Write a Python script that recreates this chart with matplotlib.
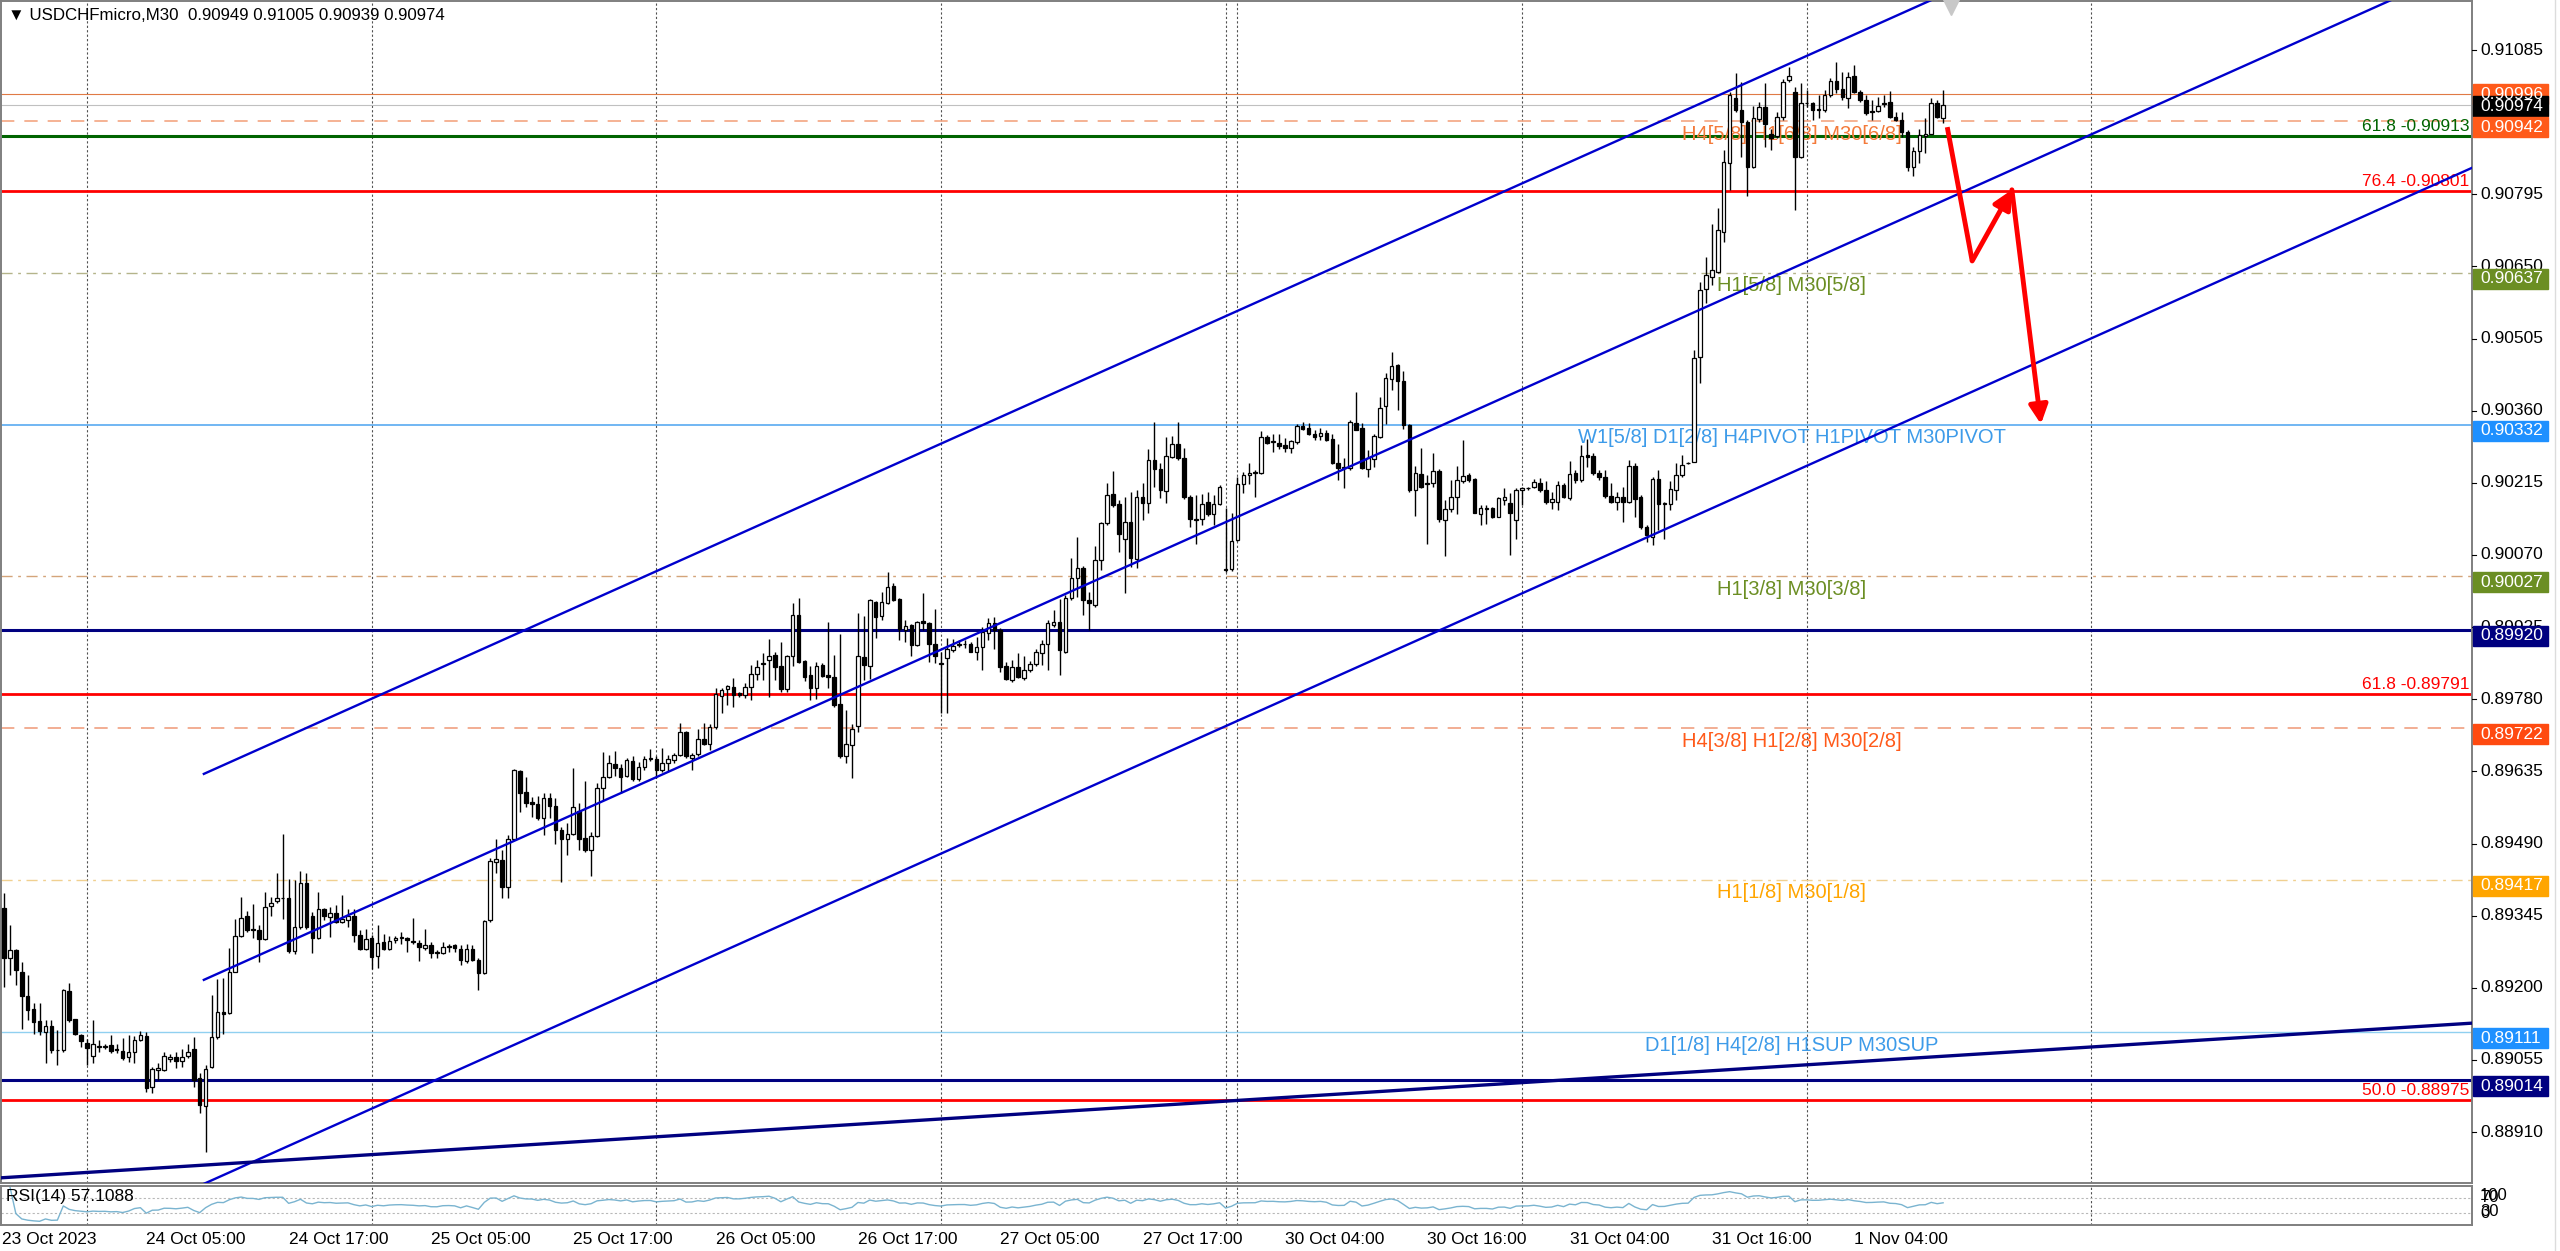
#!/usr/bin/env python3
"""USDCHFmicro M30 chart with murrey levels, fib lines and a price channel."""
import numpy as np
import pandas as pd
import matplotlib
matplotlib.use('Agg')
import matplotlib.pyplot as plt
import matplotlib.transforms as mtransforms
from matplotlib.patches import Rectangle
from matplotlib.lines import Line2D

plt.rcParams['font.family'] = ['Liberation Sans', 'DejaVu Sans']

# candle data, in points (1e-5), one per M30 bar from 23 Oct 17:00
opens = [
    89360, 89259, 89276, 89232, 89184, 89157, 89133, 89112, 89123, 89075, 89075, 89194, 89137, 89105, 89090, 89063,
    89082, 89082, 89085, 89078, 89073, 89061, 89071, 89095, 89103, 89001, 89035, 89035, 89057, 89061, 89053, 89063,
    89078, 89018, 88962, 89040, 89102, 89152, 89149, 89232, 89304, 89344, 89319, 89317, 89299, 89364, 89374, 89380,
    89380, 89274, 89323, 89411, 89344, 89301, 89358, 89343, 89351, 89333, 89336, 89344, 89306, 89278, 89301, 89264,
    89293, 89279, 89296, 89301, 89301, 89295, 89291, 89281, 89287, 89272, 89270, 89283, 89286, 89279, 89254, 89279,
    89256, 89229, 89336, 89453, 89457, 89403, 89500, 89636, 89593, 89574, 89569, 89541, 89581, 89566, 89518, 89499,
    89509, 89556, 89502, 89478, 89505, 89601, 89623, 89649, 89642, 89626, 89656, 89620, 89644, 89660, 89660, 89638,
    89651, 89658, 89668, 89715, 89661, 89670, 89701, 89690, 89725, 89786, 89800, 89805, 89792, 89788, 89805, 89831,
    89851, 89859, 89868, 89847, 89800, 89866, 89949, 89857, 89829, 89803, 89849, 89829, 89824, 89770, 89665, 89688,
    89726, 89864, 89847, 89976, 89947, 89974, 90008, 89981, 89920, 89929, 89889, 89938, 89933, 89892, 89851, 89862,
    89879, 89889, 89891, 89891, 89876, 89886, 89914, 89934, 89920, 89847, 89819, 89844, 89822, 89839, 89851, 89872,
    89891, 89929, 89936, 89876, 89983, 90023, 90043, 89979, 89969, 90059, 90135, 90192, 90172, 90103, 90137, 90061,
    90187, 90174, 90261, 90242, 90199, 90266, 90294, 90264, 90187, 90140, 90142, 90177, 90152, 90172, 90040, 90041,
    90100, 90213, 90231, 90234, 90234, 90308, 90297, 90296, 90291, 90286, 90298, 90330, 90326, 90314, 90309, 90316,
    90304, 90255, 90245, 90244, 90336, 90326, 90242, 90262, 90308, 90369, 90423, 90452, 90420, 90331, 90201, 90233,
    90214, 90215, 90239, 90140, 90162, 90187, 90219, 90231, 90222, 90152, 90162, 90164, 90147, 90180, 90175, 90140,
    90200, 90204, 90206, 90215, 90200, 90177, 90177, 90211, 90184, 90235, 90221, 90271, 90269, 90235, 90227, 90188,
    90177, 90186, 90177, 90249, 90186, 90127, 90107, 90222, 90172, 90172, 90200, 90231, 90254, 90257, 90468, 90604,
    90628, 90639, 90720, 90858, 90988, 90964, 90941, 90850, 90946, 90971, 90917, 90912, 90950, 91025, 91000, 90870,
    90978, 90978, 90964, 90964, 90994, 91023, 91006, 90988, 91033, 91001, 90984, 90963, 90963, 90976, 90981, 90950,
    90944, 90921, 90850, 90881, 90912, 90917, 90978, 90949,
]
highs = [
    89390, 89326, 89279, 89252, 89226, 89169, 89170, 89135, 89135, 89115, 89197, 89209, 89138, 89108, 89098, 89135,
    89095, 89088, 89105, 89088, 89100, 89105, 89103, 89113, 89112, 89040, 89048, 89071, 89067, 89071, 89078, 89088,
    89102, 89028, 89045, 89185, 89217, 89219, 89281, 89339, 89383, 89355, 89368, 89326, 89393, 89383, 89431, 89510,
    89418, 89417, 89435, 89430, 89353, 89393, 89360, 89362, 89366, 89386, 89358, 89358, 89316, 89319, 89306, 89326,
    89309, 89304, 89304, 89313, 89303, 89341, 89296, 89319, 89293, 89276, 89293, 89289, 89289, 89286, 89289, 89286,
    89259, 89337, 89460, 89500, 89477, 89507, 89639, 89638, 89623, 89584, 89585, 89591, 89591, 89581, 89524, 89532,
    89641, 89571, 89616, 89514, 89611, 89675, 89668, 89677, 89650, 89661, 89665, 89654, 89665, 89681, 89665, 89683,
    89668, 89671, 89732, 89717, 89671, 89721, 89732, 89730, 89802, 89802, 89809, 89822, 89795, 89812, 89849, 89859,
    89872, 89902, 89876, 89896, 89869, 89973, 89983, 89859, 89847, 89855, 89852, 89936, 89869, 89911, 89758, 89730,
    89954, 89947, 89981, 89978, 89996, 90036, 90013, 89983, 89939, 89931, 89938, 89993, 89936, 89961, 89876, 89904,
    89902, 89900, 89900, 89896, 89906, 89926, 89943, 89945, 89924, 89855, 89859, 89872, 89866, 89857, 89882, 89899,
    89939, 89959, 89981, 89990, 90063, 90107, 90048, 89996, 90088, 90137, 90215, 90239, 90180, 90187, 90197, 90200,
    90214, 90284, 90338, 90254, 90308, 90309, 90338, 90286, 90190, 90190, 90192, 90197, 90190, 90211, 90164, 90154,
    90227, 90237, 90254, 90240, 90320, 90311, 90313, 90314, 90306, 90302, 90333, 90338, 90335, 90322, 90326, 90321,
    90313, 90293, 90264, 90341, 90398, 90336, 90281, 90313, 90388, 90435, 90477, 90454, 90440, 90334, 90249, 90286,
    90231, 90274, 90242, 90180, 90221, 90249, 90301, 90235, 90224, 90170, 90170, 90167, 90187, 90204, 90194, 90204,
    90207, 90207, 90222, 90224, 90219, 90197, 90219, 90214, 90259, 90241, 90291, 90304, 90274, 90241, 90241, 90214,
    90197, 90207, 90261, 90254, 90190, 90130, 90227, 90241, 90177, 90219, 90254, 90271, 90257, 90482, 90619, 90669,
    90736, 90767, 90884, 91001, 91038, 91021, 90944, 90972, 90981, 91018, 90927, 90961, 91026, 91051, 91010, 91018,
    91004, 90981, 90994, 91004, 91028, 91061, 91041, 91041, 91055, 91004, 90994, 90984, 90991, 90994, 91003, 90961,
    90961, 90924, 90891, 90927, 90948, 90988, 90984, 91005,
]
lows = [
    89202, 89226, 89205, 89118, 89135, 89108, 89105, 89048, 89068, 89045, 89071, 89132, 89105, 89082, 89045, 89048,
    89071, 89078, 89069, 89068, 89055, 89051, 89048, 89094, 88991, 88988, 89015, 89033, 89051, 89038, 89040, 89058,
    89001, 88949, 88870, 89038, 89098, 89107, 89147, 89232, 89303, 89313, 89301, 89252, 89296, 89344, 89371, 89339,
    89270, 89268, 89319, 89319, 89269, 89299, 89336, 89303, 89331, 89331, 89323, 89293, 89276, 89277, 89237, 89239,
    89277, 89277, 89291, 89289, 89272, 89289, 89254, 89277, 89259, 89259, 89268, 89272, 89272, 89246, 89250, 89254,
    89195, 89228, 89333, 89430, 89380, 89380, 89499, 89554, 89564, 89544, 89537, 89507, 89541, 89489, 89413, 89467,
    89507, 89477, 89474, 89425, 89504, 89577, 89621, 89626, 89591, 89624, 89616, 89616, 89638, 89656, 89621, 89634,
    89636, 89652, 89665, 89661, 89638, 89666, 89688, 89678, 89721, 89752, 89768, 89764, 89785, 89782, 89778, 89819,
    89819, 89785, 89819, 89795, 89795, 89847, 89853, 89817, 89778, 89780, 89825, 89802, 89765, 89661, 89652, 89621,
    89715, 89819, 89820, 89904, 89939, 89971, 89978, 89899, 89896, 89867, 89887, 89919, 89855, 89853, 89752, 89752,
    89876, 89886, 89884, 89874, 89859, 89839, 89899, 89882, 89835, 89819, 89815, 89822, 89819, 89835, 89847, 89849,
    89839, 89926, 89829, 89872, 89979, 89986, 89949, 89919, 89966, 90040, 90130, 90167, 90077, 89993, 90046, 90043,
    90140, 90154, 90207, 90184, 90174, 90264, 90261, 90182, 90127, 90093, 90130, 90148, 90130, 90170, 90036, 90038,
    90099, 90194, 90213, 90187, 90233, 90293, 90278, 90284, 90278, 90274, 90293, 90321, 90311, 90302, 90301, 90300,
    90253, 90221, 90204, 90241, 90321, 90242, 90227, 90247, 90306, 90333, 90402, 90361, 90324, 90197, 90148, 90204,
    90093, 90207, 90137, 90067, 90157, 90152, 90214, 90217, 90154, 90130, 90133, 90144, 90146, 90170, 90070, 90103,
    90170, 90200, 90204, 90197, 90172, 90162, 90160, 90184, 90180, 90214, 90217, 90247, 90231, 90221, 90184, 90174,
    90160, 90137, 90174, 90147, 90123, 90097, 90090, 90120, 90103, 90160, 90180, 90227, 90253, 90257, 90415, 90576,
    90613, 90637, 90700, 90803, 90961, 90870, 90791, 90847, 90941, 90891, 90884, 90909, 90944, 91021, 90763, 90867,
    90971, 90944, 90948, 90961, 90991, 90998, 90984, 90968, 90998, 90981, 90954, 90944, 90961, 90971, 90948, 90943,
    90911, 90842, 90832, 90858, 90877, 90916, 90948, 90939,
]
closes = [
    89259, 89276, 89236, 89184, 89155, 89132, 89113, 89123, 89075, 89076, 89195, 89135, 89107, 89094, 89080, 89088,
    89082, 89083, 89073, 89075, 89058, 89071, 89096, 89105, 88998, 89036, 89038, 89063, 89061, 89053, 89061, 89071,
    89015, 88964, 89036, 89102, 89152, 89147, 89232, 89304, 89341, 89317, 89316, 89299, 89363, 89371, 89381, 89381,
    89274, 89323, 89411, 89323, 89301, 89358, 89344, 89350, 89333, 89339, 89344, 89306, 89278, 89299, 89262, 89291,
    89279, 89295, 89301, 89303, 89296, 89292, 89283, 89287, 89270, 89269, 89283, 89285, 89281, 89256, 89278, 89256,
    89229, 89335, 89455, 89458, 89403, 89500, 89638, 89591, 89571, 89569, 89541, 89581, 89566, 89518, 89499, 89509,
    89564, 89499, 89478, 89505, 89601, 89623, 89651, 89642, 89623, 89658, 89620, 89644, 89660, 89662, 89638, 89652,
    89659, 89668, 89715, 89665, 89668, 89701, 89690, 89725, 89790, 89799, 89807, 89788, 89788, 89805, 89830, 89845,
    89852, 89866, 89844, 89800, 89866, 89949, 89855, 89825, 89802, 89847, 89827, 89825, 89768, 89665, 89690, 89721,
    89867, 89849, 89979, 89946, 89976, 90005, 89979, 89922, 89927, 89889, 89936, 89933, 89891, 89866, 89852, 89882,
    89887, 89892, 89892, 89876, 89886, 89916, 89934, 89920, 89845, 89820, 89844, 89825, 89839, 89851, 89874, 89891,
    89933, 89936, 89879, 89983, 90023, 90043, 89979, 89973, 90060, 90134, 90190, 90170, 90113, 90137, 90063, 90187,
    90174, 90261, 90242, 90201, 90269, 90294, 90264, 90186, 90142, 90142, 90172, 90152, 90172, 90207, 90042, 90099,
    90213, 90231, 90234, 90236, 90308, 90296, 90299, 90289, 90286, 90300, 90329, 90324, 90313, 90308, 90316, 90302,
    90255, 90244, 90247, 90338, 90322, 90244, 90264, 90309, 90365, 90425, 90450, 90420, 90331, 90201, 90235, 90207,
    90213, 90239, 90142, 90162, 90186, 90221, 90229, 90221, 90155, 90164, 90164, 90147, 90184, 90186, 90155, 90200,
    90204, 90205, 90217, 90200, 90177, 90182, 90211, 90187, 90233, 90221, 90269, 90267, 90235, 90227, 90188, 90177,
    90186, 90177, 90249, 90182, 90127, 90110, 90222, 90172, 90174, 90202, 90231, 90251, 90255, 90465, 90602, 90633,
    90643, 90723, 90860, 90994, 90964, 90941, 90850, 90948, 90971, 90937, 90909, 90950, 91021, 91033, 90870, 90978,
    90979, 90964, 90966, 90994, 91023, 91006, 90990, 91030, 91001, 90984, 90958, 90961, 90972, 90978, 90950, 90944,
    90921, 90850, 90881, 90914, 90917, 90978, 90950, 90974,
]

# time axis labels (bar index of each label)
time_labels = ['23 Oct 2023', '24 Oct 05:00', '24 Oct 17:00', '25 Oct 05:00', '25 Oct 17:00',
               '26 Oct 05:00', '26 Oct 17:00', '27 Oct 05:00', '27 Oct 17:00', '30 Oct 04:00',
               '30 Oct 16:00', '31 Oct 04:00', '31 Oct 16:00', '1 Nov 04:00']
time_label_bars = [-0.3, 24, 48, 72, 96, 120, 144, 168, 192, 216, 240, 264, 288, 312]
separator_bars = [14, 62, 110, 158, 206, 208, 256, 304, 352]

# right scale labels (0.90940 sits fully under the 0.90942 box, so it is left out)
price_ticks = [0.91085, 0.90795, 0.90650, 0.90505, 0.90360, 0.90215, 0.90070,
               0.89925, 0.89780, 0.89635, 0.89490, 0.89345, 0.89200, 0.89055, 0.88910]

# horizontal levels
level_prices = [0.90996, 0.90974, 0.90942, 0.90913, 0.90801, 0.90637, 0.90332, 0.90027,
                0.89920, 0.89791, 0.89722, 0.89417, 0.89111, 0.89014, 0.88975]
level_styles = [
    ('#e07a45', '-', 0.8), ('#c0c0c0', '-', 0.8), ('#f4a582', (0, (8, 6)), 1.2),
    ('#006400', '-', 2.2), ('#ff0000', '-', 2.0), ('#b4b48a', (0, (8, 4, 2, 4)), 1.0),
    ('#4aa3f0', '-', 1.1), ('#d4a47a', (0, (8, 4, 2, 4)), 1.0), ('#000080', '-', 2.2),
    ('#ff0000', '-', 2.0), ('#f0a080', (0, (8, 6)), 1.2), ('#f0d090', (0, (8, 4, 2, 4)), 1.0),
    ('#90d0f0', '-', 1.0), ('#000080', '-', 2.2), ('#ff0000', '-', 2.0),
]

murrey_labels = ['H4[5/8] H1[6/8] M30[6/8]', 'H1[5/8] M30[5/8]',
                 'W1[5/8] D1[2/8] H4PIVOT H1PIVOT M30PIVOT', 'H1[3/8] M30[3/8]',
                 'H4[3/8] H1[2/8] M30[2/8]', 'H1[1/8] M30[1/8]', 'D1[1/8] H4[2/8] H1SUP M30SUP']
murrey_prices = [0.90942, 0.90637, 0.90332, 0.90027, 0.89722, 0.89417, 0.89111]
murrey_colors = ['#f47a3a', '#6b8e23', '#3d9be9', '#6b8e23', '#ff5a1a', '#ffa500', '#3d9be9']

fib_labels = ['61.8 -0.90913', '76.4 -0.90801', '61.8 -0.89791', '50.0 -0.88975']
fib_prices = [0.90913, 0.90801, 0.89791, 0.88975]
fib_colors = ['#006400', '#ff0000', '#ff0000', '#ff0000']

box_prices = [0.90996, 0.90974, 0.90942, 0.90637, 0.90332, 0.90027, 0.89920,
              0.89722, 0.89417, 0.89111, 0.89014]
box_colors = ['#ff5a1a', '#000000', '#ff5a1a', '#6b8e23', '#1e90ff', '#6b8e23', '#000080',
              '#ff4a10', '#ffa500', '#1e90ff', '#000080']
box_shift_px = [0, 1, 6, 6, 6, 6, 6, 6, 6, 6, 6]

# drawn objects: (bar, price) anchors
channel_top = [(33.7, 0.89630), (327, 0.91196)]
channel_mid = [(33.7, 0.89216), (327, 0.90782)]
channel_bot = [(33.7, 0.88806), (327, 0.90372)]
long_trend = [(-0.67, 0.88818), (416.2, 0.89129)]
arrow_path = [(327.7, 0.90930), (331.9, 0.90661), (338.6, 0.90804), (343.5, 0.90333)]

W, H = 2560, 1251
PX = 2.01e-5          # price per pixel
YTOP, YBOT = 0.911835, 0.888077
XL, XR = -0.506, 416.19


def frac(x0, y0, x1, y1):
    return [x0 / W, 1 - y1 / H, (x1 - x0) / W, (y1 - y0) / H]


def frame(a):
    for s in a.spines.values():
        s.set_color('#7f7f7f')
        s.set_linewidth(1.4)
    a.set_xticks([])
    a.set_yticks([])


def main():
    o = np.array(opens) / 1e5
    h = np.array(highs) / 1e5
    l = np.array(lows) / 1e5
    c = np.array(closes) / 1e5
    assert len(o) == len(h) == len(l) == len(c)
    h = np.maximum(h, np.maximum(o, c))
    l = np.minimum(l, np.minimum(o, c))
    xs = np.arange(len(c))

    fig = plt.figure(figsize=(W / 100, H / 100), dpi=100)
    ax = fig.add_axes(frac(1, 1, 2472, 1183))
    rax = fig.add_axes(frac(1, 1186, 2472, 1225))
    sax = fig.add_axes(frac(2472, 1, 2560, 1183))

    ax.set_xlim(XL, XR)
    ax.set_ylim(YBOT, YTOP)
    frame(ax)

    # day separators
    for b in separator_bars:
        ax.axvline(b, color='#505050', lw=0.8, ls=(0, (2, 2)), zorder=1)
        rax.axvline(b, color='#505050', lw=0.8, ls=(0, (2, 2)), zorder=1)

    # levels
    for p, (col, ls, lw) in zip(level_prices, level_styles):
        ax.axhline(p, color=col, ls=ls, lw=lw, zorder=1.5)

    for txt, p, col in zip(murrey_labels, murrey_prices, murrey_colors):
        ax.annotate(txt, xy=(301.5, p), xytext=(0, -13), textcoords='offset pixels',
                    ha='center', va='center', color=col, fontsize=14.5, zorder=1.6)

    for txt, p, col in zip(fib_labels, fib_prices, fib_colors):
        ax.annotate(txt, xy=(1.0, p), xycoords=('axes fraction', 'data'),
                    xytext=(-3, 2), textcoords='offset pixels',
                    ha='right', va='bottom', color=col, fontsize=12.5, zorder=1.6)

    # candles
    up = c >= o
    ax.vlines(xs, l, h, color='black', lw=1.0, zorder=2.9)
    body = np.maximum(np.abs(c - o), 0.000006)
    ax.bar(xs, body, bottom=np.minimum(o, c), width=0.6,
           color=np.where(up, 'white', 'black'), edgecolor='black', linewidth=0.9, zorder=3)

    # channel rays
    for (x0, y0), (x1, y1) in [channel_top, channel_mid, channel_bot]:
        k = (y1 - y0) / (x1 - x0)
        ax.plot([x0, XR + 5], [y0, y0 + k * (XR + 5 - x0)], color='#0000cd', lw=1.7, zorder=4)
    ax.axline(long_trend[0], long_trend[1], color='#000080', lw=2.4, zorder=4)

    # red forecast arrows
    ax.plot([arrow_path[0][0], arrow_path[1][0]], [arrow_path[0][1], arrow_path[1][1]],
            color='#ff0000', lw=3.5, solid_capstyle='butt', zorder=5)
    for a, b in [(arrow_path[1], arrow_path[2]), (arrow_path[2], arrow_path[3])]:
        ax.annotate('', xy=b, xytext=a,
                    arrowprops=dict(arrowstyle='-|>', color='#ff0000', lw=3.5,
                                    mutation_scale=28, shrinkA=0, shrinkB=0), zorder=5)

    # chart shift marker
    tr = mtransforms.blended_transform_factory(ax.transData, ax.transAxes)
    ax.plot([328.3], [1 - 5 / 1182], marker='v', ms=13, color='#c8c8c8',
            transform=tr, clip_on=False, zorder=6)

    # RSI panel
    delta = np.diff(c, prepend=c[0])
    gain = pd.Series(np.clip(delta, 0, None)).ewm(alpha=1 / 14, adjust=False).mean()
    loss = pd.Series(np.clip(-delta, 0, None)).ewm(alpha=1 / 14, adjust=False).mean()
    rsi = 100 - 100 / (1 + gain / loss)
    rax.set_xlim(XL, XR)
    rax.set_ylim(-2, 102)
    frame(rax)
    for lv in (70, 30):
        rax.axhline(lv, color='#b8b8b8', lw=0.8, ls=(0, (2, 2)))
    rax.plot(xs[1:], rsi.values[1:], color='#7ab4d0', lw=1.0)

    # right price scale
    sax.set_xlim(0, 88)
    sax.set_ylim(YBOT, YTOP)
    sax.axis('off')
    for t in price_ticks:
        sax.plot([0, 4], [t, t], color='black', lw=0.8, zorder=2)
        sax.text(8, t, f'{t:.5f}', va='center', ha='left', fontsize=12.5, zorder=2)
    for p, col, sh in zip(box_prices, box_colors, box_shift_px):
        yc = p - sh * PX
        sax.add_patch(Rectangle((1, yc - 10 * PX), 75, 20 * PX, color=col, zorder=3))
        sax.text(8, yc, f'{p:.5f}', va='center', ha='left', color='white', fontsize=12.5, zorder=4)

    # text outside the plot
    fig.text(8 / W, 1 - 15 / H, '\u25bc USDCHFmicro,M30  0.90949 0.91005 0.90939 0.90974',
             fontsize=12.2, va='center', ha='left')
    fig.text(6 / W, 1 - 1197 / H, 'RSI(14) 57.1088', fontsize=12.5, va='center', ha='left')
    for lab, y in [('100', 1196), ('70', 1198), ('30', 1212), ('0', 1214)]:
        fig.text(2480 / W, 1 - y / H, lab, fontsize=12, va='center', ha='left')

    xtr = mtransforms.blended_transform_factory(rax.transData, fig.transFigure)
    for lab, b in zip(time_labels, time_label_bars):
        fig.text(b, 1 - 1239 / H, lab, transform=xtr, fontsize=12.5, va='center', ha='left')

    fig.add_artist(Line2D([2555 / W, 2555 / W], [0, 1], color='#dcdcdc', lw=1))

    fig.savefig('out.png', dpi=100)
    print('Saved out.png')


if __name__ == '__main__':
    main()
